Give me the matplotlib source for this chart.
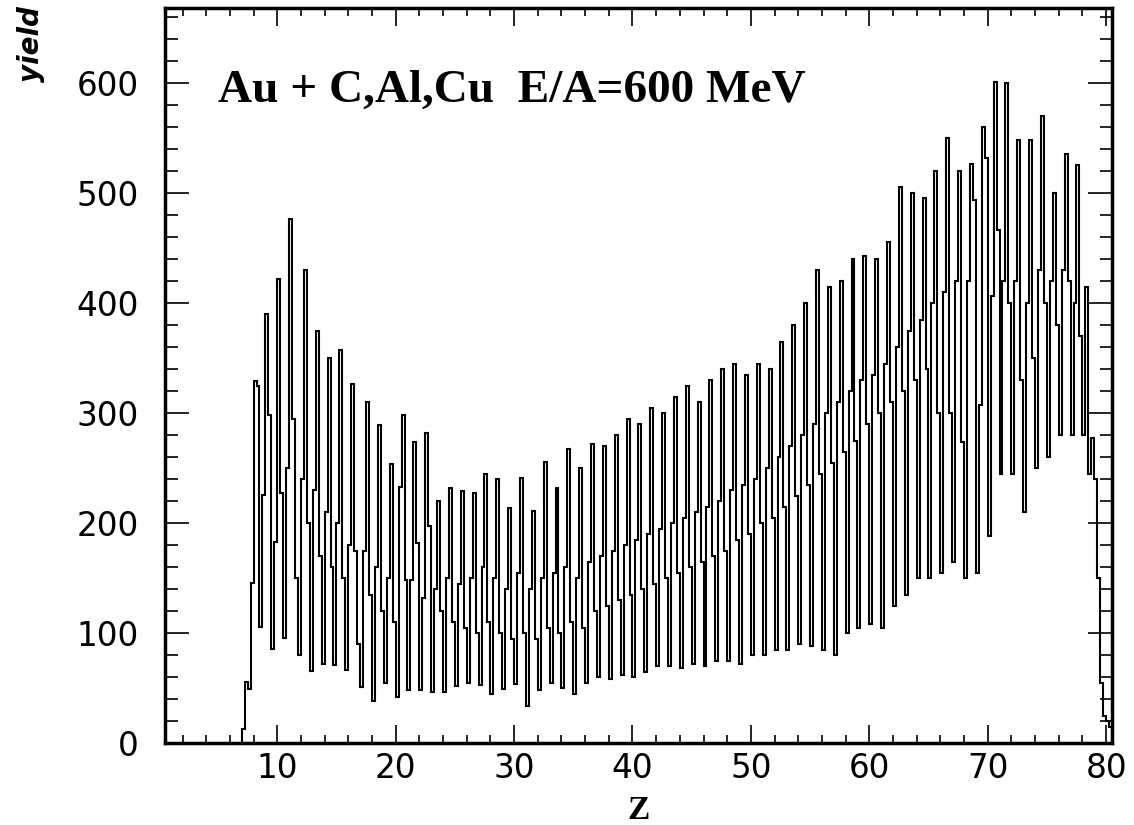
import numpy as np
import matplotlib.pyplot as plt
from matplotlib.ticker import MultipleLocator

# histogram of Z, bin width 0.25, first bin starts at Z = 7
z_first = 7.0
bin_width = 0.25

# bin contents, one row per unit of Z (7, 8, ... 80)
yield_counts = [
    13, 56, 49, 146,
    329, 325, 106, 226,
    390, 298, 86, 183,
    422, 227, 96, 250,
    476, 295, 150, 80,
    240, 430, 200, 66,
    230, 375, 170, 72,
    210, 350, 160, 71,
    200, 357, 150, 67,
    180, 326, 175, 90,
    51, 175, 310, 135,
    38, 160, 289, 120,
    55, 150, 254, 110,
    42, 233, 298, 148,
    48, 148, 274, 182,
    48, 132, 282, 197,
    47, 140, 220, 120,
    47, 150, 232, 110,
    52, 145, 229, 105,
    55, 150, 227, 100,
    53, 160, 245, 110,
    45, 150, 240, 100,
    49, 140, 214, 95,
    54, 155, 241, 100,
    34, 140, 211, 95,
    48, 150, 256, 105,
    55, 155, 232, 100,
    50, 160, 267, 110,
    45, 150, 250, 105,
    55, 165, 272, 120,
    60, 170, 270, 125,
    58, 175, 280, 130,
    62, 180, 295, 135,
    60, 185, 290, 140,
    65, 190, 305, 145,
    70, 195, 300, 150,
    70, 200, 315, 155,
    68, 205, 325, 160,
    72, 210, 310, 165,
    70, 215, 330, 170,
    75, 220, 340, 175,
    75, 230, 345, 185,
    72, 235, 335, 190,
    80, 240, 345, 200,
    80, 250, 340, 205,
    85, 260, 365, 215,
    85, 270, 380, 225,
    90, 280, 400, 235,
    88, 290, 430, 245,
    85, 300, 415, 255,
    80, 310, 420, 265,
    100, 320, 440, 275,
    105, 330, 443, 290,
    108, 335, 440, 300,
    105, 345, 455, 310,
    125, 360, 505, 320,
    135, 375, 500, 330,
    150, 385, 495, 340,
    150, 400, 520, 300,
    155, 410, 550, 300,
    165, 420, 520, 274,
    150, 420, 526, 494,
    155, 307, 560, 532,
    188, 406, 601, 466,
    245, 420, 600, 400,
    245, 420, 548, 330,
    210, 400, 548, 350,
    250, 430, 570, 400,
    260, 420, 500, 380,
    280, 430, 535, 420,
    280, 400, 525, 370,
    280, 415, 245, 277,
    240, 150, 55, 25,
    20, 15,
]

counts = np.array(yield_counts, dtype=float)
edges = z_first + bin_width * np.arange(len(counts) + 1)

fig = plt.figure(figsize=(11.34, 8.25), dpi=100)
ax = fig.add_axes([0.1453, 0.099, 0.9806 - 0.1453, 0.9903 - 0.099])

ax.stairs(counts, edges, color='black', lw=1.5)

ax.set_xlim(0.5, 80.5)
ax.set_ylim(0, 668)
ax.xaxis.set_major_locator(MultipleLocator(10))
ax.xaxis.set_minor_locator(MultipleLocator(2))
ax.yaxis.set_major_locator(MultipleLocator(100))
ax.yaxis.set_minor_locator(MultipleLocator(20))
ax.tick_params(which='both', direction='in', top=True, right=True, width=1.2)
ax.tick_params(axis='x', which='major', length=13, labelsize=23.5, pad=6)
ax.tick_params(axis='x', which='minor', length=6)
ax.tick_params(axis='y', which='major', length=17, labelsize=23.5, pad=19)
ax.tick_params(axis='y', which='minor', length=9)
for s in ax.spines.values():
    s.set_linewidth(2.5)
for lab in ax.get_xticklabels() + ax.get_yticklabels():
    lab.set_family('DejaVu Sans')

ax.text(0.056, 0.872, 'Au + C,Al,Cu  E/A=600 MeV', transform=ax.transAxes,
        family='Liberation Serif', weight='bold', fontsize=34)
fig.text(0.0275, 0.992, 'yield', rotation=90, ha='center', va='top',
         family='DejaVu Sans', weight='bold', style='italic', fontsize=20)
fig.text(0.563, 0.007, 'Z', ha='center', va='baseline',
         family='Liberation Serif', weight='bold', fontsize=24)

fig.savefig('out.png')
